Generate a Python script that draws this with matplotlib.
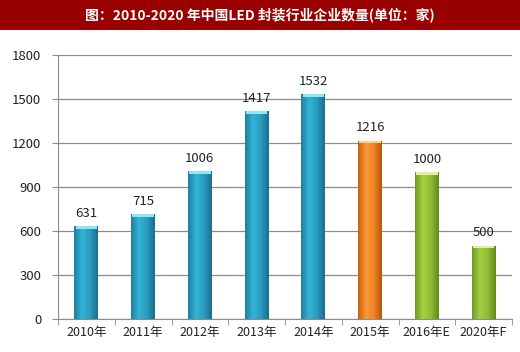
import matplotlib.pyplot as plt
import numpy as np
from matplotlib.colors import LinearSegmentedColormap

plt.rcParams['font.family'] = ['Noto Sans CJK SC', 'DejaVu Sans']

years = ['2010年', '2011年', '2012年', '2013年', '2014年', '2015年', '2016年E', '2020年F']
counts = [631, 715, 1006, 1417, 1532, 1216, 1000, 500]
kinds = ['hist', 'hist', 'hist', 'hist', 'hist', 'now', 'fcst', 'fcst']
title = '图：2010-2020 年中国LED 封装行业企业数量(单位：家)'

# dark / mid / light shades for the cylinder look
shades = {
    'hist': ['#1d7f9e', '#33b4d6', '#2a9cc0', '#1a6f8c'],
    'now': ['#c9620e', '#f99a35', '#f08426', '#b8560b'],
    'fcst': ['#6e9a1e', '#a6cf45', '#8fbd32', '#628a19'],
}
tops = {'hist': '#8fe6f7', 'now': '#fdd28e', 'fcst': '#dff2a0'}

fig = plt.figure(figsize=(5.2, 3.52), dpi=100)
fig.patch.set_facecolor('white')

# title band
band = fig.add_axes([0, 1 - 30 / 352, 1, 30 / 352])
band.set_facecolor('#990000')
band.set_xticks([])
band.set_yticks([])
for s in band.spines.values():
    s.set_visible(False)
band.text(0.5, 0.5, title, color='white', fontsize=10, fontweight='bold',
          ha='center', va='center', transform=band.transAxes)

ax = fig.add_axes([58 / 520, 33 / 352, 454 / 520, 264 / 352])
x = np.arange(len(years))
bars = ax.bar(x, counts, width=0.42, color='none', zorder=3)
for b, v, k in zip(bars, counts, kinds):
    cmap = LinearSegmentedColormap.from_list('c', shades[k])
    grad = np.linspace(0, 1, 64).reshape(1, -1)
    x0, w = b.get_x(), b.get_width()
    im = ax.imshow(grad, extent=(x0, x0 + w, 0, v), aspect='auto', cmap=cmap,
                   zorder=3)
    im.set_clip_path(b)
    ax.fill_between([x0 + w * 0.05, x0 + w * 0.95], v - 18, v, color=tops[k],
                    zorder=4, lw=0)
    ax.text(b.get_x() + w / 2, v + 45, str(v), ha='center', va='bottom',
            fontsize=9.5, color='#222222', zorder=5)

ax.set_xlim(-0.5, len(years) - 0.5)
ax.set_ylim(0, 1800)
ax.set_yticks(range(0, 1801, 300))
ax.yaxis.grid(True, color='#8c8c8c', lw=0.9, zorder=0)
ax.set_axisbelow(True)
ax.set_xticks(x)
ax.set_xticklabels(years, fontsize=9, color='#222222')
ax.tick_params(axis='x', length=0, pad=5)
ax.set_xticks(np.arange(-0.5, len(years)), minor=True)
ax.tick_params(axis='x', which='minor', length=4, color='#8c8c8c')
ax.tick_params(axis='y', length=4, color='#8c8c8c', labelsize=9.5,
               labelcolor='#222222', pad=8)
for s in ['top', 'right']:
    ax.spines[s].set_visible(False)
for s in ['left', 'bottom']:
    ax.spines[s].set_color('#8c8c8c')

fig.savefig('out.png', dpi=100)
